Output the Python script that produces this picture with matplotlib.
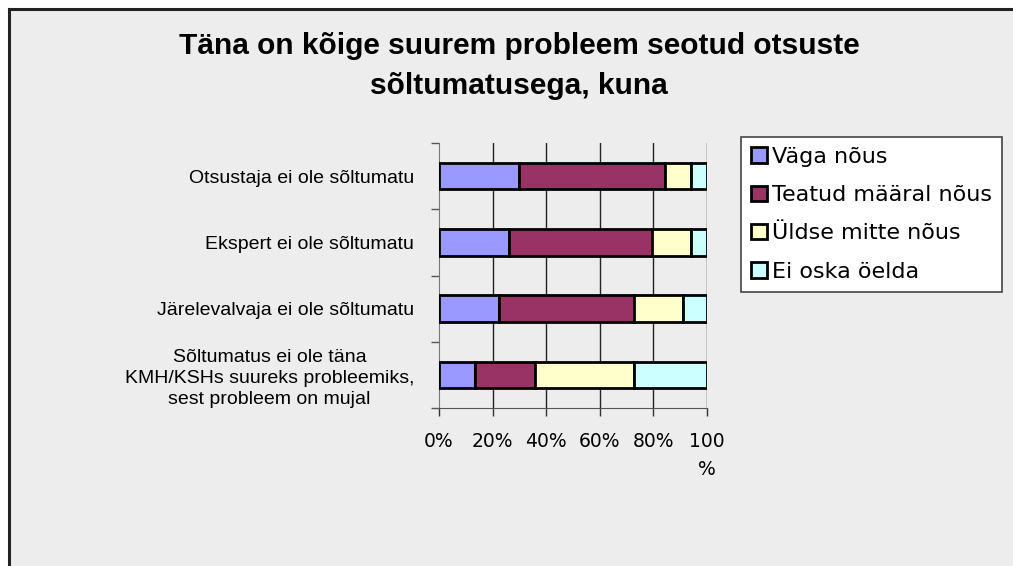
import matplotlib
matplotlib.use("Agg")
import matplotlib.pyplot as plt
from matplotlib.patches import Rectangle
from matplotlib.lines import Line2D
import numpy as np

categories = ["Otsustaja ei ole sõltumatu",
              "Ekspert ei ole sõltumatu",
              "Järelevalvaja ei ole sõltumatu",
              "Sõltumatus ei ole täna\nKMH/KSHs suureks probleemiks,\nsest probleem on mujal"]
series_names = ["Väga nõus", "Teatud määral nõus", "Üldse mitte nõus", "Ei oska öelda"]
vaga = [30.0, 26.0, 22.3, 13.4]
teatud = [54.4, 53.5, 50.4, 22.5]
uldse = [9.7, 14.6, 18.4, 36.8]
ei_oska = [5.9, 5.9, 8.9, 27.3]
colors = ["#9999ff", "#993366", "#ffffcc", "#ccffff"]
xticks = [0, 20, 40, 60, 80, 100]
xticklabels = ["0%", "20%", "40%", "60%", "80%", "100\n%"]

W, H = 1013, 566
fig = plt.figure(figsize=(W / 100, H / 100), dpi=100, facecolor="white")

# grey chart area with border on top and left
fig.patches.append(Rectangle((9 / W, 0), 1, 1 - 9 / H, transform=fig.transFigure,
                             facecolor="#ededed", edgecolor="none", zorder=-10))
fig.lines.append(Line2D([9 / W, 9 / W], [0, 1 - 9 / H], transform=fig.transFigure,
                        color="#222222", lw=2.2, zorder=-5))
fig.lines.append(Line2D([9 / W, 1], [1 - 9 / H, 1 - 9 / H], transform=fig.transFigure,
                        color="#222222", lw=2.2, zorder=-5))

ax = fig.add_axes([439 / W, 1 - 408 / H, 268 / W, 265 / H])
ax.set_facecolor("#ededed")

y = np.arange(len(categories))[::-1]
left = np.zeros(len(categories))
for name, vals, c in zip(series_names, [vaga, teatud, uldse, ei_oska], colors):
    ax.barh(y, vals, left=left, height=0.4, color=c, edgecolor="black",
            linewidth=2.0, label=name, zorder=3)
    left += np.array(vals)

ax.set_xlim(0, 100)
ax.set_ylim(-0.5, len(categories) - 0.5)
ax.set_xticks(xticks)
ax.set_xticklabels(xticklabels, fontsize=13.5, family="DejaVu Sans", linespacing=1.6)
for x in xticks[1:]:
    ax.axvline(x, color="#222222", lw=1.0, zorder=1)

ax.set_yticks(y)
ax.set_yticklabels(categories, fontsize=14, family="Liberation Sans",
                   ha="right", multialignment="center", linespacing=1.3)
ax.tick_params(axis="y", length=0, pad=18)
ax.set_yticks(np.arange(-0.5, len(categories), 1.0), minor=True)
ax.tick_params(axis="y", which="minor", length=6, color="#555555", width=1)
ax.tick_params(axis="x", length=6, color="#333333", width=1, pad=11)

for s in ["top", "right"]:
    ax.spines[s].set_visible(False)
ax.spines["left"].set_color("#777777")
ax.spines["bottom"].set_color("#555555")

fig.text(519 / W, 1 - 66 / H,
         "Täna on kõige suurem probleem seotud otsuste\nsõltumatusega, kuna",
         ha="center", va="center", fontsize=21.5, fontweight="bold",
         family="Liberation Sans", linespacing=1.55)

leg = fig.legend(loc="upper left", bbox_to_anchor=(741 / W, 1 - 137 / H),
                 frameon=True, fancybox=False, edgecolor="#444444", facecolor="white",
                 prop={"family": "DejaVu Sans", "size": 16}, handlelength=0.7,
                 handleheight=0.7, handletextpad=0.25, labelspacing=0.82,
                 borderpad=0.45, borderaxespad=0, framealpha=1)
leg.get_frame().set_linewidth(1.2)

fig.savefig("out.png", dpi=100, facecolor=fig.get_facecolor())
